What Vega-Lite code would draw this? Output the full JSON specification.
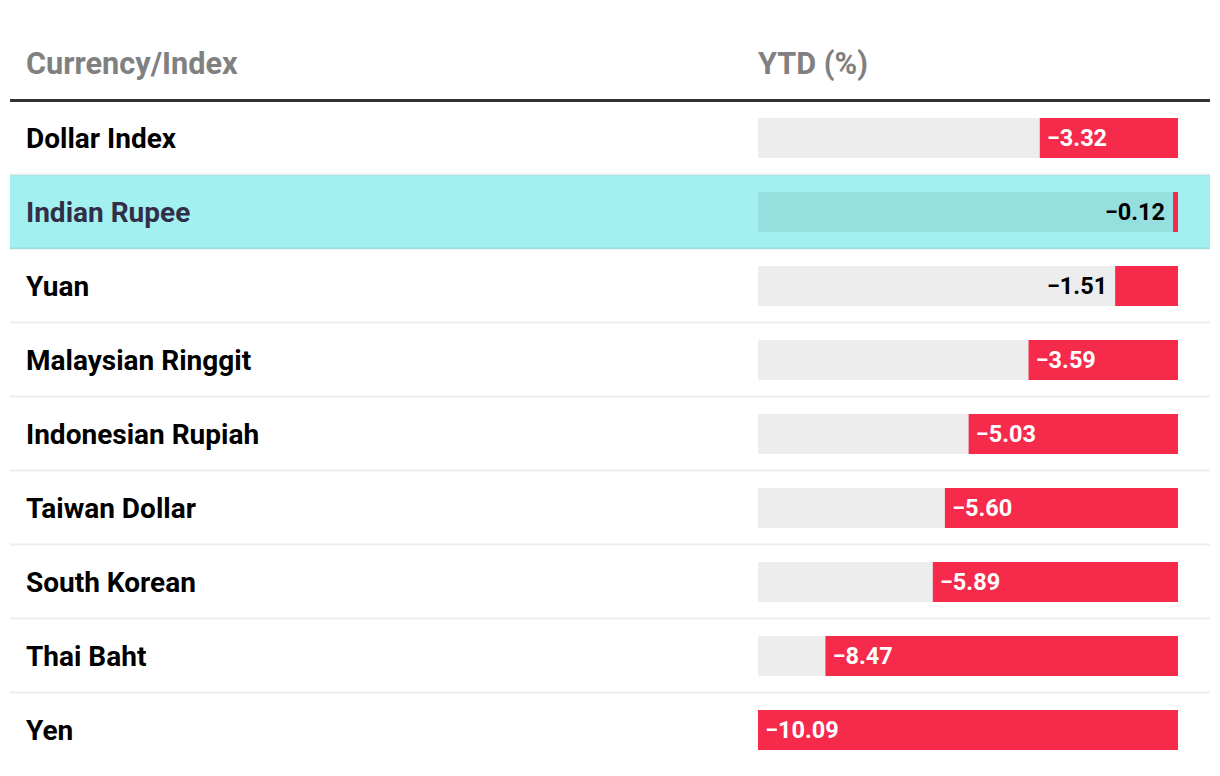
{
  "$schema": "https://vega.github.io/schema/vega-lite/v6.json",
  "width": 1200,
  "height": 740,
  "autosize": {"type": "none"},
  "padding": {"left": 10, "top": 27, "right": 10, "bottom": 9},
  "background": "white",
  "config": {"view": {"stroke": null}, "font": "Roboto"},
  "datasets": {
    "rows": [
      {"name": "Dollar Index", "ytd": -3.32},
      {"name": "Indian Rupee", "ytd": -0.12},
      {"name": "Yuan", "ytd": -1.51},
      {"name": "Malaysian Ringgit", "ytd": -3.59},
      {"name": "Indonesian Rupiah", "ytd": -5.03},
      {"name": "Taiwan Dollar", "ytd": -5.60},
      {"name": "South Korean", "ytd": -5.89},
      {"name": "Thai Baht", "ytd": -8.47},
      {"name": "Yen", "ytd": -10.09}
    ],
    "header": [
      {"name": "hdr", "label": "Currency/Index", "column": "name"},
      {"name": "hdr", "label": "YTD (%)", "column": "ytd"}
    ]
  },
  "data": {"name": "rows"},
  "layer": [
    {
      "transform": [{"filter": "datum.name === 'Indian Rupee'"}],
      "mark": {"type": "rect", "color": "#a2f0f0"},
      "encoding": {
        "x": {"datum": -28.06, "type": "quantitative", "scale": {"domain": [-28.06, 0.769], "nice": false, "zero": false}, "axis": null},
        "x2": {"datum": 0.769},
        "y": {"field": "name", "type": "nominal", "axis": null, "scale": {"domain": ["hdr", "Dollar Index", "Indian Rupee", "Yuan", "Malaysian Ringgit", "Indonesian Rupiah", "Taiwan Dollar", "South Korean", "Thai Baht", "Yen"], "paddingInner": 0, "paddingOuter": 0}}
      }
    },
    {
      "transform": [{"filter": "datum.name !== 'Dollar Index'"}],
      "mark": {"type": "rule", "color": "#000000", "strokeOpacity": 0.07, "strokeWidth": 2, "yOffset": -0.5},
      "encoding": {
        "x": {"datum": -28.06, "type": "quantitative"},
        "x2": {"datum": 0.769},
        "y": {"field": "name", "type": "nominal", "bandPosition": 0}
      }
    },
    {
      "data": {"name": "header"},
      "transform": [{"filter": "datum.column === 'name'"}],
      "mark": {"type": "rule", "color": "#333333", "strokeWidth": 3, "yOffset": 36.5},
      "encoding": {
        "x": {"datum": -28.06, "type": "quantitative"},
        "x2": {"datum": 0.769},
        "y": {"field": "name", "type": "nominal"}
      }
    },
    {
      "data": {"name": "header"},
      "transform": [{"filter": "datum.column === 'name'"}],
      "mark": {"type": "text", "align": "left", "baseline": "middle", "fontSize": 30.7, "fontWeight": "bold", "color": "#808080", "dy": 1},
      "encoding": {
        "x": {"datum": -27.676, "type": "quantitative"},
        "y": {"field": "name", "type": "nominal"},
        "text": {"field": "label"}
      }
    },
    {
      "data": {"name": "header"},
      "transform": [{"filter": "datum.column === 'ytd'"}],
      "mark": {"type": "text", "align": "left", "baseline": "middle", "fontSize": 30.7, "fontWeight": "bold", "color": "#808080", "dy": 1},
      "encoding": {
        "x": {"datum": -10.09, "type": "quantitative"},
        "y": {"field": "name", "type": "nominal"},
        "text": {"field": "label"}
      }
    },
    {
      "mark": {"type": "text", "align": "left", "baseline": "middle", "fontSize": 28, "fontWeight": "bold", "dy": 2},
      "encoding": {
        "x": {"datum": -27.676, "type": "quantitative"},
        "y": {"field": "name", "type": "nominal"},
        "text": {"field": "name"},
        "color": {"condition": {"test": "datum.name === 'Indian Rupee'", "value": "#332e48"}, "value": "#000000"}
      }
    },
    {
      "mark": {"type": "bar", "height": 40, "color": "#000000", "opacity": 0.07},
      "encoding": {
        "x": {"datum": -10.09, "type": "quantitative"},
        "x2": {"datum": 0},
        "y": {"field": "name", "type": "nominal"}
      }
    },
    {
      "mark": {"type": "bar", "height": 40, "color": "#f62a4a"},
      "encoding": {
        "x": {"field": "ytd", "type": "quantitative"},
        "x2": {"datum": 0},
        "y": {"field": "name", "type": "nominal"}
      }
    },
    {
      "transform": [{"filter": "datum.ytd < -2"}],
      "mark": {"type": "text", "align": "left", "baseline": "middle", "dx": 7, "dy": 1, "fontSize": 23.5, "fontWeight": "bold", "color": "#ffffff"},
      "encoding": {
        "x": {"field": "ytd", "type": "quantitative"},
        "y": {"field": "name", "type": "nominal"},
        "text": {"field": "ytd", "type": "quantitative", "format": ".2f"}
      }
    },
    {
      "transform": [{"filter": "datum.ytd >= -2"}],
      "mark": {"type": "text", "align": "right", "baseline": "middle", "dx": -8, "dy": 1, "fontSize": 23.5, "fontWeight": "bold", "color": "#000000"},
      "encoding": {
        "x": {"field": "ytd", "type": "quantitative"},
        "y": {"field": "name", "type": "nominal"},
        "text": {"field": "ytd", "type": "quantitative", "format": ".2f"}
      }
    }
  ]
}
